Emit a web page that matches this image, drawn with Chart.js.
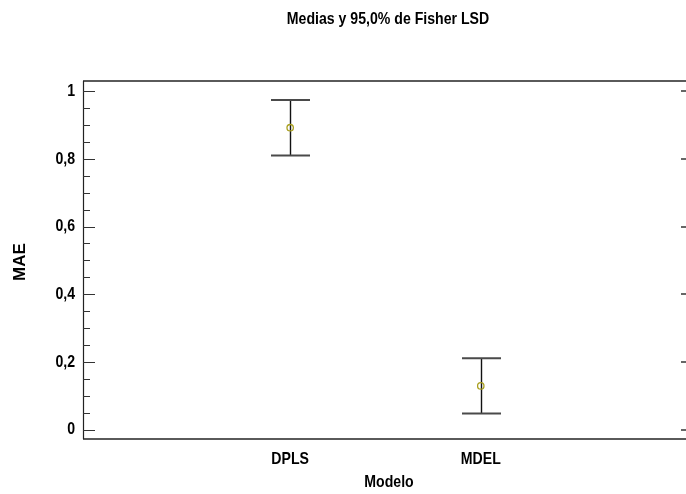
<!DOCTYPE html>
<html>
<head>
<meta charset="utf-8">
<script src="https://cdn.jsdelivr.net/npm/chart.js@4/dist/chart.umd.min.js"></script>
<style>
  html, body { margin: 0; padding: 0; background: #fff; overflow: hidden; }
  #wrap { width: 686px; height: 494px; position: relative; }
</style>
</head>
<body>
<div id="wrap"><canvas id="c" width="686" height="494"></canvas></div>
<script>
// Means and 95% Fisher LSD intervals of MAE per model
const models = ['DPLS', 'MDEL'];
const means = [0.892, 0.129];
const lower = [0.810, 0.047];
const upper = [0.974, 0.211];
const yMajorTicks = [0, 0.2, 0.4, 0.6, 0.8, 1];
const yMinorStep = 0.05;

const chartTitle = 'Medias y 95,0% de Fisher LSD';
const xTitle = 'Modelo';
const yTitle = 'MAE';

const FONT = '"Liberation Sans Narrow", "Arial Narrow", "Liberation Sans", Arial, sans-serif';
const CONDENSE = 0.83; // narrow-face look: squeeze glyphs horizontally around their anchor

const fmt = v => String(Math.round(v * 10) / 10).replace('.', ',');

const canvas = document.getElementById('c');
const g = canvas.getContext('2d');
const baseFillText = g.fillText.bind(g);
g.fillText = function (text, x, y, maxWidth) {
  this.save();
  this.translate(x, y);
  this.scale(CONDENSE, 1);
  baseFillText(text, 0, 0);
  this.restore();
};

// Frame, inward ticks, LSD interval bars and titles
const decor = {
  id: 'decor',
  beforeDatasetsDraw(chart) {
    const { ctx, scales: { x, y } } = chart;
    ctx.save();
    models.forEach((m, i) => {
      const px = Math.round(x.getPixelForValue(i + 1)) + 0.5;
      const yl = y.getPixelForValue(lower[i]);
      const yu = y.getPixelForValue(upper[i]);
      ctx.strokeStyle = '#111';
      ctx.lineWidth = 1.4;
      ctx.beginPath();
      ctx.moveTo(px, yu); ctx.lineTo(px, yl);
      ctx.stroke();
      ctx.strokeStyle = '#4a4a4a';
      ctx.lineWidth = 2;
      ctx.beginPath();
      ctx.moveTo(px - 19.5, yu); ctx.lineTo(px + 19.5, yu);
      ctx.moveTo(px - 19.5, yl); ctx.lineTo(px + 19.5, yl);
      ctx.stroke();
    });
    ctx.restore();
  },
  afterDraw(chart) {
    const { ctx, chartArea: a, scales: { y } } = chart;
    ctx.save();
    // frame
    ctx.strokeStyle = '#5a5a5a';
    ctx.lineWidth = 2;
    ctx.beginPath();
    ctx.moveTo(a.left, a.top); ctx.lineTo(chart.width, a.top);
    ctx.moveTo(a.left, a.bottom); ctx.lineTo(chart.width, a.bottom);
    ctx.stroke();
    ctx.strokeStyle = '#222';
    ctx.lineWidth = 1.2;
    ctx.beginPath();
    ctx.moveTo(a.left + 0.5, a.top); ctx.lineTo(a.left + 0.5, a.bottom);
    ctx.stroke();
    // left ticks (major + minor), pointing inward
    ctx.strokeStyle = '#333';
    ctx.lineWidth = 1.2;
    ctx.beginPath();
    for (let k = 0; k <= 20; k++) {
      const v = k * yMinorStep;
      const py = Math.round(y.getPixelForValue(v)) + 0.5;
      const major = k % 4 === 0;
      ctx.moveTo(a.left, py);
      ctx.lineTo(a.left + (major ? 12 : 7), py);
    }
    ctx.stroke();
    // right ticks (major only)
    ctx.strokeStyle = '#666';
    ctx.lineWidth = 2;
    ctx.beginPath();
    yMajorTicks.forEach(v => {
      const py = Math.round(y.getPixelForValue(v));
      ctx.moveTo(681, py); ctx.lineTo(chart.width, py);
    });
    ctx.stroke();
    // titles
    ctx.fillStyle = '#000';
    ctx.font = 'bold 17px ' + FONT;
    ctx.textAlign = 'center';
    ctx.textBaseline = 'alphabetic';
    ctx.fillText(chartTitle, 388, 24);
    ctx.fillText(xTitle, 389, 487);
    // vertical axis title keeps full-width letters
    ctx.translate(25, 262);
    ctx.rotate(-Math.PI / 2);
    baseFillText(yTitle, 0, 0);
    ctx.restore();
  }
};

new Chart(canvas, {
  type: 'scatter',
  data: {
    datasets: [{
      data: models.map((m, i) => ({ x: i + 1, y: means[i] })),
      pointStyle: 'circle',
      pointRadius: 3.2,
      pointBorderWidth: 1.3,
      borderColor: '#aaa020',
      backgroundColor: 'rgba(255,255,255,0)',
      pointBackgroundColor: 'rgba(255,255,255,0)',
      pointBorderColor: '#aaa020'
    }]
  },
  options: {
    responsive: false,
    animation: false,
    layout: { padding: { top: 81, left: 0, right: 0, bottom: 0 } },
    plugins: { legend: { display: false }, tooltip: { enabled: false }, title: { display: false } },
    scales: {
      x: {
        type: 'linear',
        min: -0.087,
        max: 3.049,
        afterFit(s) { s.height = 55; },
        afterBuildTicks(s) { s.ticks = models.map((m, i) => ({ value: i + 1 })); },
        grid: { display: false, drawTicks: false },
        border: { display: false },
        ticks: {
          padding: 10,
          color: '#000',
          font: { family: FONT, size: 17, weight: 'bold' },
          callback: v => models[v - 1] || ''
        }
      },
      y: {
        type: 'linear',
        min: -0.028,
        max: 1.03,
        afterFit(s) { s.width = 83; },
        afterBuildTicks(s) { s.ticks = yMajorTicks.map(v => ({ value: v })); },
        grid: { display: false, drawTicks: false },
        border: { display: false },
        ticks: {
          padding: 8,
          color: '#000',
          font: { family: FONT, size: 17, weight: 'bold' },
          callback: v => fmt(v)
        }
      }
    }
  },
  plugins: [decor]
});
</script>
</body>
</html>
